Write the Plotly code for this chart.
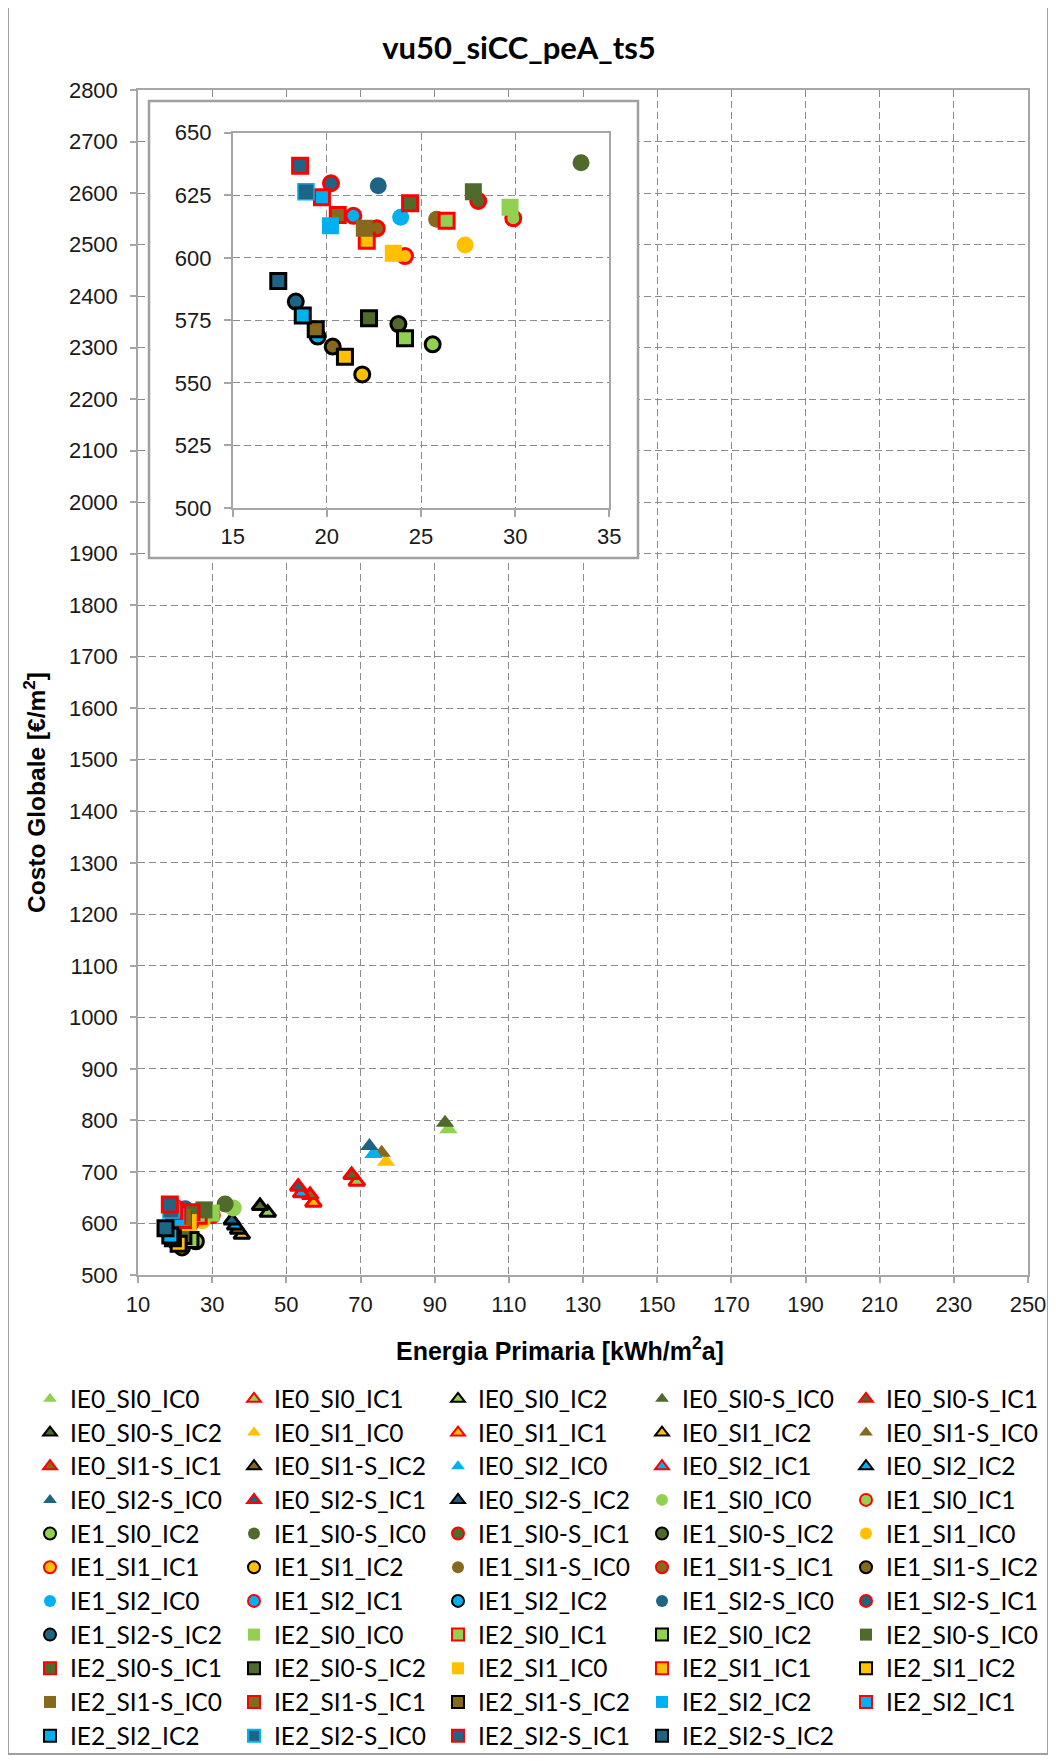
import plotly.graph_objects as go

# ---------------- data ----------------
labels = [
    "IE0_SI0_IC0", "IE0_SI0_IC1", "IE0_SI0_IC2", "IE0_SI0-S_IC0", "IE0_SI0-S_IC1",
    "IE0_SI0-S_IC2", "IE0_SI1_IC0", "IE0_SI1_IC1", "IE0_SI1_IC2", "IE0_SI1-S_IC0",
    "IE0_SI1-S_IC1", "IE0_SI1-S_IC2", "IE0_SI2_IC0", "IE0_SI2_IC1", "IE0_SI2_IC2",
    "IE0_SI2-S_IC0", "IE0_SI2-S_IC1", "IE0_SI2-S_IC2", "IE1_SI0_IC0", "IE1_SI0_IC1",
    "IE1_SI0_IC2", "IE1_SI0-S_IC0", "IE1_SI0-S_IC1", "IE1_SI0-S_IC2", "IE1_SI1_IC0",
    "IE1_SI1_IC1", "IE1_SI1_IC2", "IE1_SI1-S_IC0", "IE1_SI1-S_IC1", "IE1_SI1-S_IC2",
    "IE1_SI2_IC0", "IE1_SI2_IC1", "IE1_SI2_IC2", "IE1_SI2-S_IC0", "IE1_SI2-S_IC1",
    "IE1_SI2-S_IC2", "IE2_SI0_IC0", "IE2_SI0_IC1", "IE2_SI0_IC2", "IE2_SI0-S_IC0",
    "IE2_SI0-S_IC1", "IE2_SI0-S_IC2", "IE2_SI1_IC0", "IE2_SI1_IC1", "IE2_SI1_IC2",
    "IE2_SI1-S_IC0", "IE2_SI1-S_IC1", "IE2_SI1-S_IC2", "IE2_SI2_IC2", "IE2_SI2_IC1",
    "IE2_SI2_IC2", "IE2_SI2-S_IC0", "IE2_SI2-S_IC1", "IE2_SI2-S_IC2",
]
# actual configuration of each series (one legend label in the original is mislabelled)
series_ids = labels[:48] + ["IE2_SI2_IC0"] + labels[49:]

energia = [
    93.7, 69.0, 45.0, 92.8, 67.6, 42.9, 76.9, 57.3, 38.0, 75.7,
    56.4, 37.0, 73.5, 54.0, 36.2, 72.4, 53.2, 35.3, 35.7, 29.90,
    25.62, 33.50, 28.04, 23.80, 27.34, 24.15, 21.88, 25.83, 22.65, 20.31,
    23.92, 21.41, 19.51, 22.73, 20.22, 18.35, 29.73, 26.36, 24.15, 27.78,
    24.42, 22.24, 23.53, 22.12, 20.96, 21.99, 20.58, 19.41, 20.19, 19.74,
    18.72, 18.89, 18.58, 17.42,
]
costo = [
    782.8, 681.1, 621.0, 795.6, 694.1, 633.9, 719.9, 640.3, 578.0, 737.4,
    655.3, 588.0, 734.9, 658.6, 596.0, 750.4, 671.4, 606.0, 630.0, 615.8,
    565.4, 638.0, 622.7, 573.5, 605.1, 600.7, 553.4, 615.4, 611.8, 564.5,
    616.2, 616.8, 568.5, 628.8, 629.8, 582.5, 620.2, 614.8, 567.8, 626.4,
    621.8, 575.8, 601.8, 606.8, 560.5, 611.8, 617.1, 571.4, 612.8, 624.2,
    576.9, 626.4, 636.8, 590.7,
]

main_x_range = [10, 250]
main_y_range = [500, 2800]
inset_x_range = [15, 35]
inset_y_range = [500, 650]

# ---------------- styles ----------------
FILL = {
    "SI0": "#92D050", "SI0-S": "#4F6A2A",
    "SI1": "#FFC000", "SI1-S": "#86691C",
    "SI2": "#00B0F0", "SI2-S": "#1E6485",
}
SYMBOL = {"IE0": "triangle-up", "IE1": "circle", "IE2": "square"}
EDGE = {"IC0": None, "IC1": "#FF0000", "IC2": "#000000"}


def marker_style(sid):
    ie, si, ic = sid.split("_")
    edge = EDGE[ic]
    sym = SYMBOL[ie]
    if edge is None:
        size = 16 if ie == "IE0" else 17
        line = dict(width=0, color=FILL[si])
        if ie == "IE2" and si == "SI2-S":
            line = dict(width=1.5, color="#00B0F0")
            size = 16
    else:
        size = 14 if ie == "IE0" else 15
        line = dict(width=3, color=edge)
    return dict(symbol=sym, size=size, color=FILL[si], line=line)


fig = go.Figure()

# main chart traces
for lab, sid, xv, yv in zip(labels, series_ids, energia, costo):
    fig.add_trace(go.Scatter(
        x=[xv], y=[yv], mode="markers", legendgroup=lab,
        name='<span style="font-size:24.5px">' + lab + "</span>",
        marker=marker_style(sid), xaxis="x", yaxis="y",
        hovertext=lab, hoverinfo="text+x+y",
    ))

# empty trace to create the white inset frame subplot
fig.add_trace(go.Scatter(x=[], y=[], xaxis="x2", yaxis="y2", showlegend=False,
                         hoverinfo="skip"))

# inset traces (points inside the inset range)
for lab, sid, xv, yv in zip(labels, series_ids, energia, costo):
    if inset_x_range[0] <= xv <= inset_x_range[1] and inset_y_range[0] <= yv <= inset_y_range[1]:
        fig.add_trace(go.Scatter(
            x=[xv], y=[yv], mode="markers", name=lab, legendgroup=lab,
            marker=marker_style(sid), xaxis="x3", yaxis="y3",
            showlegend=False, hovertext=lab, hoverinfo="text+x+y",
        ))

# ---------------- layout ----------------
OFF = 8  # page body margin of the browser
W, H = 1056 - OFF, 1761 - OFF
PL, PR, PT, PB = 138 - OFF, 1028 - OFF, 90 - OFF, 1275 - OFF
pw, ph = PR - PL, PB - PT


def px_x(px):  # px given in reference-screen coordinates
    return (px - OFF - PL) / pw


def px_y(py):
    return 1 - (py - OFF - PT) / ph


AX_COL = "#A6A6A6"
GRID_COL = "#8C8C8C"
TICK_FONT = dict(family="Liberation Sans, Arial", size=22, color="#1A1A1A")

common = dict(
    showline=True, linecolor=AX_COL, linewidth=1.5, mirror=True,
    ticks="outside", ticklen=6, tickcolor=AX_COL, tickwidth=1.5,
    showgrid=True, gridcolor=GRID_COL, gridwidth=1, griddash="7px,4px",
    zeroline=False, tickfont=TICK_FONT,
)

fig.update_layout(
    width=W, height=H,
    paper_bgcolor="white", plot_bgcolor="white",
    margin=dict(l=PL, r=W - PR, t=PT, b=H - PB, autoexpand=False),
    title=dict(text="<b>vu50_siCC_peA_ts5</b>", xref="container", yref="container",
               x=(519 - OFF) / W, xanchor="center", y=1 - (48 - OFF) / H, yanchor="middle",
               font=dict(family="Lato, Carlito, Calibri", size=31, color="#000")),
    xaxis=dict(domain=[0, 1], anchor="y", range=main_x_range, dtick=20, tick0=10,
               ticklabelstandoff=3, **common),
    yaxis=dict(domain=[0, 1], anchor="x", range=main_y_range, dtick=100,
               ticklabelstandoff=8, **common),
    xaxis2=dict(domain=[px_x(149), px_x(638)], anchor="y2", visible=False, range=[0, 1]),
    yaxis2=dict(domain=[px_y(558), px_y(101)], anchor="x2", visible=False, range=[0, 1]),
    xaxis3=dict(domain=[px_x(232.7), px_x(609.3)], anchor="y3", range=inset_x_range,
                dtick=5, tick0=15, ticklabelstandoff=1, **{**common, "ticklen": 7}),
    yaxis3=dict(domain=[px_y(508), px_y(132.7)], anchor="x3", range=inset_y_range,
                dtick=25, ticklabelstandoff=8, **{**common, "ticklen": 7}),
    showlegend=True,
    legend=dict(
        orientation="h", traceorder="normal",
        x=px_x(30), xanchor="left", y=px_y(1377), yanchor="top",
        entrywidth=159, entrywidthmode="pixels",
        font=dict(family="Lato, Carlito, Calibri", size=23.6, color="#000"),
        itemsizing="constant", bgcolor="rgba(0,0,0,0)",
    ),
    annotations=[
        dict(text="<b>Costo Globale [€/m<sup>2</sup>]</b>", xref="paper", yref="paper",
             x=px_x(34), y=px_y(793), xanchor="center", yanchor="middle",
             textangle=-90, showarrow=False,
             font=dict(family="Liberation Sans, Arial", size=24.5, color="#000")),
        dict(text="<b>Energia Primaria [kWh/m<sup>2</sup>a]</b>", xref="paper", yref="paper",
             x=px_x(560), y=px_y(1349), xanchor="center", yanchor="middle",
             showarrow=False,
             font=dict(family="Liberation Sans, Arial", size=25, color="#000")),
    ],
    shapes=[
        dict(type="rect", xref="paper", yref="paper",
             x0=px_x(149), x1=px_x(638), y0=px_y(558), y1=px_y(101),
             line=dict(color="#A0A0A0", width=2.5), fillcolor="rgba(0,0,0,0)", layer="above"),
        dict(type="rect", xref="paper", yref="paper",
             x0=px_x(8), x1=px_x(1048), y0=px_y(1754), y1=px_y(7),
             line=dict(color="#A0A0A0", width=2), fillcolor="rgba(0,0,0,0)", layer="above"),
    ],
)

fig.write_html("out.html")
